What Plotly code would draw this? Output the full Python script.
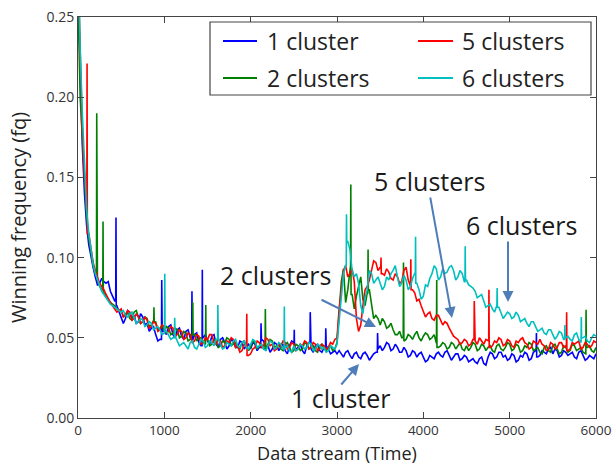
import plotly.graph_objects as go

# Time axis of the stream: main samples every 50 steps, plus the samples halfway between
x_time = list(range(0, 6001, 50))
x_half = list(range(25, 6000, 50))

# Winning frequency per number of clusters at x_time (rows hold 10 samples each)
fq_1_cluster = [
    .27, .17, .12, .10, .088, .084, .085, .085, .076, .070,
    .063, .062, .066, .064, .060, .063, .059, .056, .052, .049,
    .054, .057, .052, .055, .051, .054, .050, .052, .047, .050,
    .048, .051, .046, .049, .047, .045, .048, .044, .047, .045,
    .043, .046, .044, .048, .045, .043, .046, .044, .042, .045,
    .047, .044, .042, .045, .043, .045, .042, .044, .043, .041,
    .040, .040, .041, .039, .040, .038, .040, .039, .038, .041,
    .045, .044, .046, .043, .044, .041, .042, .039, .041, .040,
    .038, .036, .038, .040, .039, .041, .039, .038, .040, .037,
    .038, .036, .035, .037, .034, .038, .040, .038, .041, .039,
    .037, .039, .036, .038, .040, .037, .042, .039, .041, .043,
    .040, .042, .039, .041, .040, .038, .041, .039, .037, .038,
    .040,
]
fq_2_clusters = [
    .26, .175, .125, .102, .090, .082, .078, .074, .071, .068,
    .067, .065, .062, .066, .063, .060, .062, .058, .060, .056,
    .054, .056, .053, .055, .051, .053, .049, .052, .050, .047,
    .049, .046, .048, .045, .047, .049, .046, .044, .047, .045,
    .044, .047, .045, .043, .046, .048, .045, .043, .046, .044,
    .042, .045, .043, .046, .044, .042, .045, .043, .044, .042,
    .047, .085, .072, .095, .068, .082, .074, .078, .070, .064,
    .058, .060, .057, .055, .052, .050, .049, .051, .052, .050,
    .051, .052, .050, .047, .045, .046, .044, .046, .045, .043,
    .045, .044, .046, .043, .045, .044, .042, .045, .043, .044,
    .046, .043, .045, .042, .044, .046, .043, .041, .044, .042,
    .045, .043, .041, .044, .042, .045, .043, .041, .044, .042,
    .044,
]
fq_5_clusters = [
    .28, .18, .13, .105, .092, .084, .080, .074, .070, .066,
    .068, .064, .066, .062, .063, .060, .061, .057, .059, .055,
    .057, .054, .056, .052, .054, .050, .052, .048, .051, .047,
    .049, .052, .046, .048, .045, .047, .049, .045, .042, .045,
    .040, .044, .047, .045, .049, .046, .043, .045, .047, .044,
    .046, .043, .045, .047, .044, .046, .043, .045, .044, .046,
    .050, .080, .095, .090, .085, .054, .070, .082, .092, .097,
    .094, .089, .091, .086, .088, .085, .094, .082, .078, .074,
    .066, .065, .062, .064, .061, .060, .056, .051, .049, .047,
    .048, .046, .048, .050, .046, .048, .045, .047, .049, .046,
    .048, .044, .047, .050, .046, .044, .047, .049, .045, .043,
    .046, .044, .047, .045, .043, .046, .048, .044, .046, .045,
    .047,
]
fq_6_clusters = [
    .30, .19, .13, .104, .090, .082, .077, .073, .070, .068,
    .066, .064, .065, .062, .060, .061, .058, .059, .056, .055,
    .053, .051, .050, .048, .046, .045, .047, .044, .046, .048,
    .045, .047, .049, .046, .044, .046, .048, .045, .047, .044,
    .046, .048, .045, .043, .045, .047, .044, .046, .044, .042,
    .045, .043, .045, .044, .046, .043, .045, .044, .042, .044,
    .046, .075, .095, .105, .088, .084, .065, .080, .090, .086,
    .084, .082, .086, .092, .088, .084, .086, .082, .090, .080,
    .076, .082, .090, .093, .088, .090, .094, .092, .088, .090,
    .086, .082, .079, .076, .073, .070, .068, .070, .066, .064,
    .065, .063, .064, .061, .059, .060, .057, .055, .053, .055,
    .052, .051, .053, .050, .049, .052, .049, .050, .048, .050,
    .051,
]

# Same series at x_half (25, 75, ..., 5975)
fq_1_cluster_half = [
    .21, .14, .108, .094, .083, .087, .084, .079, .073, .066,
    .059, .067, .062, .059, .065, .058, .054, .057, .048, .054,
    .052, .058, .050, .056, .049, .055, .048, .053, .045, .052,
    .046, .052, .044, .050, .043, .049, .044, .048, .043, .046,
    .047, .042, .049, .044, .041, .047, .042, .046, .040, .048,
    .043, .046, .040, .047, .041, .046, .041, .045, .040, .042,
    .042, .038, .042, .037, .041, .037, .041, .036, .040, .043,
    .042, .047, .042, .046, .041, .044, .038, .042, .038, .041,
    .035, .039, .037, .041, .038, .042, .036, .040, .036, .039,
    .035, .037, .034, .038, .033, .041, .037, .041, .038, .036,
    .040, .035, .039, .041, .036, .041, .038, .042, .040, .044,
    .043, .038, .042, .039, .041, .037, .042, .036, .039, .037,
]
fq_2_clusters_half = [
    .20, .145, .112, .095, .086, .080, .076, .072, .070, .067,
    .063, .066, .061, .067, .059, .063, .057, .061, .055, .058,
    .057, .052, .056, .050, .054, .048, .053, .048, .050, .046,
    .045, .049, .044, .048, .050, .045, .047, .043, .048, .042,
    .048, .043, .046, .042, .049, .044, .046, .042, .047, .041,
    .046, .042, .047, .043, .045, .041, .046, .042, .045, .043,
    .068, .093, .080, .077, .076, .088, .070, .080, .062, .062,
    .062, .056, .059, .052, .054, .048, .052, .049, .054, .048,
    .053, .049, .052, .044, .047, .043, .047, .043, .047, .042,
    .042, .047, .042, .046, .042, .045, .041, .046, .042, .047,
    .042, .046, .041, .045, .047, .042, .044, .040, .045, .041,
    .046, .040, .045, .041, .046, .042, .044, .040, .045, .041,
]
fq_5_clusters_half = [
    .22, .15, .115, .097, .088, .082, .077, .072, .068, .067,
    .063, .067, .061, .065, .059, .063, .056, .060, .054, .058,
    .053, .057, .051, .055, .049, .053, .047, .052, .046, .050,
    .052, .047, .049, .044, .048, .050, .044, .041, .046, .039,
    .043, .048, .044, .050, .045, .042, .046, .048, .043, .047,
    .042, .046, .048, .043, .047, .042, .046, .043, .047, .049,
    .068, .092, .088, .093, .062, .058, .080, .086, .098, .092,
    .090, .093, .087, .090, .084, .092, .086, .080, .073, .070,
    .063, .066, .061, .064, .058, .059, .053, .050, .046, .049,
    .045, .049, .046, .048, .049, .044, .048, .050, .045, .049,
    .045, .048, .049, .047, .043, .048, .046, .046, .042, .047,
    .043, .047, .044, .042, .047, .047, .043, .047, .044, .048,
]
fq_6_clusters_half = [
    .23, .155, .115, .096, .086, .079, .075, .071, .069, .067,
    .067, .063, .066, .059, .062, .057, .060, .055, .057, .052,
    .054, .049, .051, .045, .047, .043, .048, .043, .049, .044,
    .048, .045, .050, .043, .047, .045, .049, .044, .048, .043,
    .049, .044, .046, .042, .048, .043, .047, .043, .045, .041,
    .042, .046, .043, .047, .042, .046, .043, .041, .045, .043,
    .062, .090, .110, .092, .090, .070, .075, .092, .084, .088,
    .080, .088, .090, .095, .082, .089, .080, .087, .084, .074,
    .083, .087, .095, .086, .093, .091, .095, .086, .092, .085,
    .083, .081, .075, .077, .069, .071, .066, .069, .062, .066,
    .062, .066, .060, .062, .057, .060, .054, .056, .052, .055,
    .049, .054, .049, .051, .048, .053, .047, .051, .047, .052,
]

# Isolated single-step peaks: (time, winning frequency)
peaks_1_cluster = [(440, .125), (970, .086), (1320, .079), (1440, .0925), (2120, .059),
                   (2505, .055), (2690, .066), (2870, .056), (3470, .053), (5310, .053)]
peaks_2_clusters = [(217, .19), (290, .1225), (880, .069), (1330, .072), (1480, .0705),
                    (2170, .068), (3160, .1455), (3360, .105), (3770, .097), (4155, .086),
                    (5885, .0675)]
peaks_5_clusters = [(105, .221), (1955, .065), (3510, .10), (3855, .099), (4590, .073),
                    (4760, .080), (5660, .066)]
peaks_6_clusters = [(1005, .090), (1120, .0625), (1620, .0705), (2390, .0695), (3110, .127),
                    (3910, .113), (4485, .107), (4855, .081), (5640, .058), (5830, .063)]

series_names = ["1 cluster", "2 clusters", "5 clusters", "6 clusters"]
series_colors = ["#0000ff", "#008000", "#ff0000", "#00bfbf"]
series_values = [fq_1_cluster, fq_2_clusters, fq_5_clusters, fq_6_clusters]
series_half = [fq_1_cluster_half, fq_2_clusters_half, fq_5_clusters_half, fq_6_clusters_half]
series_peaks = [peaks_1_cluster, peaks_2_clusters, peaks_5_clusters, peaks_6_clusters]


def build_series(vals, half, peaks):
    """Interleave both sample sets and put each narrow peak between its neighbours."""
    pts = sorted(list(zip(x_time, vals)) + list(zip(x_half, half)), key=lambda p: p[0])
    xs = [p[0] for p in pts]
    ys = [p[1] for p in pts]
    step = xs[1] - xs[0]
    extra = []
    for px, py in peaks:
        i = px // step
        j = min(i + 1, len(ys) - 1)
        extra += [(px - 3, ys[i]), (px, py), (px + 3, ys[j])]
    pts = sorted(pts + extra, key=lambda p: p[0])
    return [p[0] for p in pts], [p[1] for p in pts]


fig = go.Figure()
for name, color, vals, half, peaks in zip(series_names, series_colors, series_values,
                                          series_half, series_peaks):
    xs, ys = build_series(vals, half, peaks)
    fig.add_trace(go.Scatter(x=xs, y=ys, mode="lines", name=name,
                             line=dict(color=color, width=1.6), showlegend=False))

# Plot-area geometry in pixels (used for the legend box and callouts)
L, R, T, B = 78, 596, 17, 418


def pxx(p):
    return (p - L) / (R - L)


def pxy(p):
    return (B - p) / (B - T)


FONT = "Open Sans, Lato, sans-serif"
shapes = []
annotations = []

# Legend box drawn in two columns
shapes.append(dict(type="rect", xref="paper", yref="paper",
                   x0=pxx(210), x1=pxx(591), y0=pxy(95), y1=pxy(22),
                   line=dict(color="#444444", width=1.2), fillcolor="white", layer="above"))
legend_slots = [(223, 257, 265, 41), (223, 257, 265, 78), (418, 453, 460, 41), (418, 453, 460, 78)]
for (lx0, lx1, tx, ty), name, color in zip(legend_slots, series_names, series_colors):
    shapes.append(dict(type="line", xref="paper", yref="paper",
                       x0=pxx(lx0), x1=pxx(lx1), y0=pxy(ty), y1=pxy(ty),
                       line=dict(color=color, width=2.2), layer="above"))
    annotations.append(dict(xref="paper", yref="paper", x=pxx(tx), y=pxy(ty),
                            text=name, showarrow=False, xanchor="left", yanchor="middle",
                            font=dict(family=FONT, size=23, color="#222222")))

# Callout labels and arrows
ARROW = "#4f7db8"
callouts = [
    ("5 clusters", (429, 181), (452, 318), (430, 196)),
    ("6 clusters", (521, 225), (508, 302), (508, 240)),
    ("2 clusters", (275, 275), (376, 327), (320, 299)),
    ("1 cluster", (341, 398), (359, 364), (340, 386)),
]
for text, (cx, cy), (hx, hy), (tx, ty) in callouts:
    annotations.append(dict(xref="paper", yref="paper", x=pxx(cx), y=pxy(cy), text=text,
                            showarrow=False, xanchor="center", yanchor="middle",
                            font=dict(family=FONT, size=25, color="#1a1a1a")))
    annotations.append(dict(xref="paper", yref="paper", x=pxx(hx), y=pxy(hy), text="",
                            showarrow=True, ax=tx - hx, ay=ty - hy, axref="pixel", ayref="pixel",
                            arrowhead=2, arrowsize=1.1, arrowwidth=2, arrowcolor=ARROW,
                            standoff=0, startstandoff=0))

axis_common = dict(showgrid=False, zeroline=False, showline=True, mirror="ticks",
                   linecolor="#444444", linewidth=1, ticks="inside", ticklen=6,
                   tickcolor="#444444", automargin=False, ticklabeloverflow="allow")

fig.update_layout(
    width=612, height=469,
    margin=dict(l=L, r=612 - R, t=T, b=469 - B),
    plot_bgcolor="white", paper_bgcolor="white",
    font=dict(family=FONT),
    showlegend=False,
    shapes=shapes,
    annotations=annotations,
    xaxis=dict(range=[0, 6000], tickvals=[0, 1000, 2000, 3000, 4000, 5000, 6000],
               tickfont=dict(family=FONT, size=13.5, color="#333333"),
               title=dict(text="Data stream (Time)", standoff=9,
                          font=dict(family=FONT, size=18, color="#222222")),
               **axis_common),
    yaxis=dict(range=[0, 0.25], tickvals=[0, 0.05, 0.10, 0.15, 0.20, 0.25], tickformat=".2f",
               tickfont=dict(family=FONT, size=14, color="#333333"),
               title=dict(text="Winning frequency (fq)", standoff=14,
                          font=dict(family=FONT, size=20, color="#222222")),
               **axis_common),
)

fig.write_html("out.html")
